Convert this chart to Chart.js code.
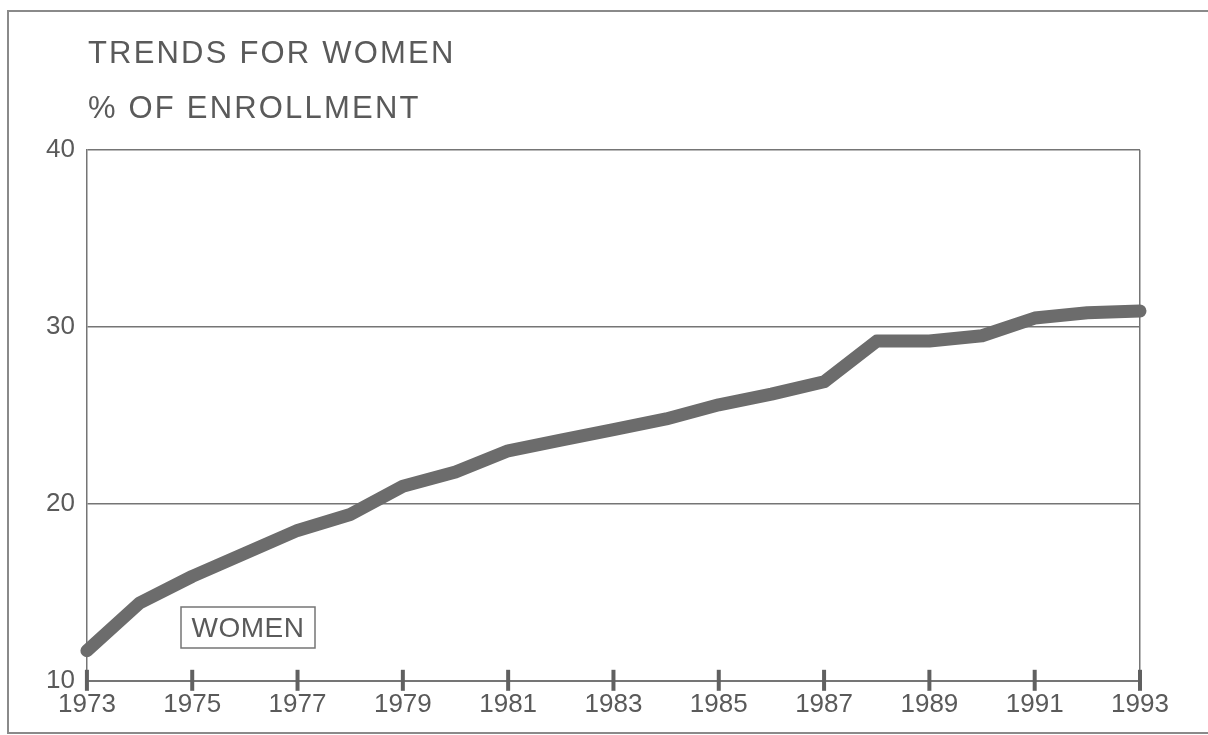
<!DOCTYPE html>
<html lang="en">
<head>
	<meta charset="UTF-8" />
	<title>Trends for Women</title>
	<script src="https://cdn.jsdelivr.net/npm/chart.js@4.4.1/dist/chart.umd.min.js"></script>
	<style>
		body { margin: 0; background: #fff; overflow: hidden; }
		.frame { position: absolute; left: 7px; top: 10px; width: 1220px; height: 724px; border: 2px solid #8a8a8a; box-sizing: border-box; }
		.wrap { position: absolute; left: 0; top: 0; width: 1208px; height: 735px; }
	</style>
</head>
<body>
	<div class="frame"></div>
	<div class="wrap">
		<canvas id="myChart" width="1208" height="735"></canvas>
	</div>
<script>
	// values
	const years = [1973, 1974, 1975, 1976, 1977, 1978, 1979, 1980, 1981, 1982, 1983,
		1984, 1985, 1986, 1987, 1988, 1989, 1990, 1991, 1992, 1993];
	const women = [11.7, 14.4, 15.9, 17.2, 18.5, 19.4, 21.0, 21.8, 23.0, 23.6, 24.2,
		24.8, 25.6, 26.2, 26.9, 29.2, 29.2, 29.5, 30.5, 30.8, 30.9];
	const titleLines = ["TRENDS FOR WOMEN", "% OF ENROLLMENT"];
	const yTicks = [10, 20, 30, 40];

	const font = '"Liberation Sans", Arial, Helvetica, sans-serif';
	const ink = '#5a5a5a';
	const rule = '#757575';

	const points = years.map((y, i) => ({ x: y, y: women[i] }));

	// title, legend box and the heavy tick marks on the year axis
	const extras = {
		id: 'extras',
		afterDraw(chart) {
			const ctx = chart.ctx;
			const area = chart.chartArea;
			const xs = chart.scales.x;
			ctx.save();
			ctx.fillStyle = ink;
			ctx.font = '31px ' + font;
			ctx.letterSpacing = '2.2px';
			ctx.textBaseline = 'alphabetic';
			ctx.textAlign = 'left';
			ctx.fillText(titleLines[0], area.left + 1, 63);
			ctx.fillText(titleLines[1], area.left + 1, 118);
			ctx.letterSpacing = '0px';

			ctx.strokeStyle = '#606060';
			ctx.lineWidth = 4;
			xs.ticks.forEach(t => {
				const px = xs.getPixelForValue(t.value);
				ctx.beginPath();
				ctx.moveTo(px, area.bottom - 11);
				ctx.lineTo(px, area.bottom + 10);
				ctx.stroke();
			});

			// legend box
			const label = chart.data.datasets[0].label;
			ctx.strokeStyle = rule;
			ctx.lineWidth = 1.5;
			ctx.strokeRect(181, 607, 134, 41);
			ctx.font = '28px ' + font;
			ctx.letterSpacing = '0.5px';
			ctx.textAlign = 'center';
			ctx.textBaseline = 'middle';
			ctx.fillText(label, 248, 629);
			ctx.restore();
		}
	};

	const ctx = document.getElementById('myChart').getContext('2d');
	const chart = new Chart(ctx, {
		type: 'line',
		data: {
			datasets: [{
				label: 'WOMEN',
				data: points,
				borderColor: '#6c6c6c',
				borderWidth: 13,
				borderCapStyle: 'round',
				borderJoinStyle: 'round',
				pointRadius: 0,
				tension: 0,
				fill: false,
				clip: false
			}]
		},
		options: {
			responsive: false,
			animation: false,
			layout: { padding: { left: 34, right: 68, top: 150, bottom: 7 } },
			plugins: {
				legend: { display: false },
				title: { display: false },
				tooltip: { enabled: false }
			},
			scales: {
				x: {
					type: 'linear',
					min: years[0],
					max: years[years.length - 1],
					border: { display: true, color: rule, width: 2 },
					grid: {
						drawTicks: false,
						color: c => c.tick && c.tick.value === years[years.length - 1] ? rule : 'rgba(0,0,0,0)',
						lineWidth: 1.5
					},
					ticks: {
						stepSize: 2,
						padding: 8,
						color: ink,
						font: { family: font, size: 26 },
						maxRotation: 0,
						callback: v => String(v)
					}
				},
				y: {
					min: yTicks[0],
					max: yTicks[yTicks.length - 1],
					border: { display: true, color: rule, width: 1.5 },
					grid: {
						drawTicks: false,
						color: c => c.tick && c.tick.value > yTicks[0] ? rule : 'rgba(0,0,0,0)',
						lineWidth: 1.5
					},
					afterBuildTicks: s => { s.ticks = yTicks.map(v => ({ value: v })); },
					ticks: {
						padding: 12,
						color: ink,
						font: { family: font, size: 26 }
					}
				}
			}
		},
		plugins: [extras]
	});
</script>
</body>
</html>
